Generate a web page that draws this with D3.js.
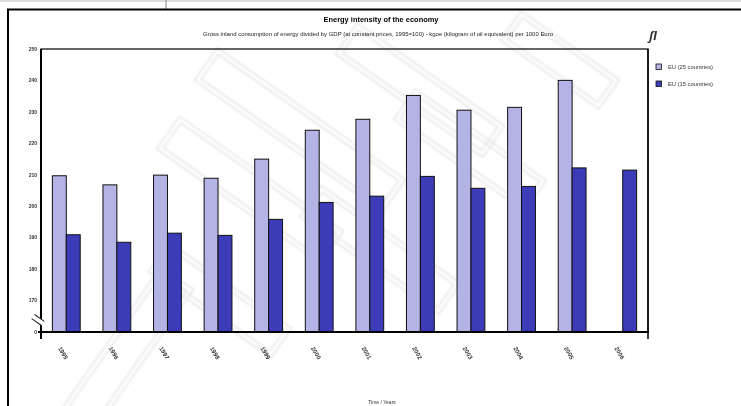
<!DOCTYPE html>
<html>
<head>
<meta charset="utf-8">
<script src="https://cdn.jsdelivr.net/npm/d3@7"></script>
<style>
  html, body { margin: 0; padding: 0; background: #fff; }
  svg { display: block; font-family: "Liberation Sans", Arial, sans-serif; }
</style>
</head>
<body>
<svg id="chart" width="741" height="406"></svg>
<script>
// Energy intensity: gross inland consumption of energy / GDP
const years = ["1995","1996","1997","1998","1999","2000","2001","2002","2003","2004","2005","2006"];
const eu25 = [209.6, 206.7, 209.8, 208.8, 214.9, 224.1, 227.6, 235.2, 230.5, 231.4, 240.0, null];
const eu15 = [190.8, 188.4, 191.3, 190.6, 195.7, 201.1, 203.1, 209.4, 205.6, 206.2, 212.1, 211.4];
const seriesNames = ["EU (25 countries)", "EU (15 countries)"];
const seriesColors = ["#b3b3e6", "#3c3cb9"];
const yTicks = [0, 170, 180, 190, 200, 210, 220, 230, 240, 250];

const svg = d3.select("#chart");
const plot = { left: 41, right: 648, top: 49, bottom: 332 };

// faint background emblem strokes
const defs = svg.append("defs");
defs.append("filter").attr("id", "soft").append("feGaussianBlur").attr("stdDeviation", 0.8);
const wm = svg.append("g").attr("fill", "none").attr("stroke", "#e6e6e6").attr("stroke-width", 1.6)
  .attr("filter", "url(#soft)");
[
  [250, 190, 200, 40, 35], [300, 130, 230, 40, 35], [420, 90, 180, 38, 35],
  [470, 150, 160, 38, 35], [380, 250, 170, 38, 35], [120, 360, 200, 40, -55],
  [560, 60, 120, 36, 35], [220, 300, 150, 36, 35]
].forEach(([cx, cy, w, h, a]) => {
  const g = wm.append("g").attr("transform", `translate(${cx},${cy}) rotate(${a})`);
  g.append("rect").attr("x", -w / 2).attr("y", -h / 2).attr("width", w).attr("height", h);
  g.append("rect").attr("x", -w / 2 + 5).attr("y", -h / 2 + 5).attr("width", w - 10).attr("height", h - 10);
});

// outer frame
svg.append("line").attr("x1", 0).attr("x2", 741).attr("y1", 1).attr("y2", 1).attr("stroke", "#bbb");
svg.append("line").attr("x1", 166).attr("x2", 166).attr("y1", 0).attr("y2", 9).attr("stroke", "#888");
svg.append("line").attr("x1", 7).attr("x2", 741).attr("y1", 9.5).attr("y2", 9.5).attr("stroke", "#000").attr("stroke-width", 2);
svg.append("line").attr("x1", 8).attr("x2", 8).attr("y1", 9).attr("y2", 406).attr("stroke", "#000").attr("stroke-width", 2);

// titles
svg.append("text").attr("x", 381).attr("y", 22).attr("text-anchor", "middle")
  .attr("font-size", 8).attr("font-weight", "bold").attr("textLength", 115).attr("lengthAdjust", "spacingAndGlyphs")
  .text("Energy intensity of the economy");
svg.append("text").attr("x", 378).attr("y", 35.5).attr("text-anchor", "middle")
  .attr("font-size", 5).attr("fill", "#222").attr("textLength", 350).attr("lengthAdjust", "spacingAndGlyphs")
  .text("Gross inland consumption of energy divided by GDP (at constant prices, 1995=100) - kgoe (kilogram of oil equivalent) per 1000 Euro");

// small emblem at top right
svg.append("text").attr("x", 649).attr("y", 40).attr("font-size", 13).attr("font-style", "italic")
  .attr("font-weight", "bold").attr("fill", "#333").text("ʃI");

// scales (broken value axis: 0 then 170..250)
const x = d3.scaleBand().domain(years).range([plot.left, plot.right]).paddingInner(0.45).paddingOuter(0.225);
const xs = d3.scaleBand().domain([0, 1]).range([0, x.bandwidth()]);
const y = d3.scaleLinear().domain([0, 170, 250]).range([plot.bottom, 300, plot.top]);

// plot box
svg.append("rect").attr("x", plot.left).attr("y", plot.top).attr("width", plot.right - plot.left)
  .attr("height", plot.bottom - plot.top).attr("fill", "none").attr("stroke", "#000").attr("stroke-width", 1.2);

// bars
const groups = svg.append("g").selectAll("g").data(years).join("g")
  .attr("transform", d => `translate(${x(d)},0)`);
[eu25, eu15].forEach((vals, si) => {
  groups.filter((d, i) => vals[i] != null).append("rect")
    .attr("x", xs(si))
    .attr("y", (d) => y(vals[years.indexOf(d)]))
    .attr("width", xs.bandwidth())
    .attr("height", (d) => plot.bottom - y(vals[years.indexOf(d)]))
    .attr("fill", seriesColors[si])
    .attr("stroke", "#111").attr("stroke-width", 1);
});

// axes
const yAxis = d3.axisLeft(y).tickValues(yTicks).tickSize(0).tickPadding(4);
const ya = svg.append("g").attr("transform", `translate(${plot.left},0)`).call(yAxis);
ya.select(".domain").remove();
ya.selectAll("text").attr("font-size", 5).attr("font-weight", "bold").attr("fill", "#333")
  .attr("font-family", "Liberation Sans, Arial, sans-serif");

svg.append("line").attr("x1", plot.left).attr("x2", plot.left).attr("y1", plot.top).attr("y2", 339)
  .attr("stroke", "#000").attr("stroke-width", 2);
svg.append("line").attr("x1", plot.left - 3).attr("x2", plot.right + 1).attr("y1", plot.bottom).attr("y2", plot.bottom)
  .attr("stroke", "#000").attr("stroke-width", 2);
svg.append("line").attr("x1", plot.right).attr("x2", plot.right).attr("y1", plot.top).attr("y2", 339)
  .attr("stroke", "#000").attr("stroke-width", 1.5);

// axis break mark
const brk = svg.append("g").attr("transform", `translate(${plot.left - 3},${(y(0) + y(170)) / 2 + 4}) rotate(35)`);
brk.append("rect").attr("x", -6).attr("y", -2.5).attr("width", 12).attr("height", 5).attr("fill", "#fff");
brk.append("line").attr("x1", -6).attr("x2", 6).attr("y1", -2.5).attr("y2", -2.5).attr("stroke", "#222").attr("stroke-width", 1);
brk.append("line").attr("x1", -6).attr("x2", 6).attr("y1", 2.5).attr("y2", 2.5).attr("stroke", "#222").attr("stroke-width", 1);

// rotated year labels
const xa = svg.append("g").attr("transform", `translate(0,${plot.bottom})`)
  .call(d3.axisBottom(x).tickSize(0).tickPadding(0));
xa.select(".domain").remove();
xa.selectAll(".tick text")
  .attr("font-size", 6).attr("font-weight", "bold").attr("fill", "#333")
  .attr("font-family", "Liberation Sans, Arial, sans-serif")
  .attr("text-anchor", "middle").attr("dy", 0)
  .attr("transform", "translate(-5,22) rotate(60)");

// legend
const lg = svg.append("g").attr("transform", "translate(656,64)");
seriesNames.forEach((name, i) => {
  lg.append("rect").attr("x", 0).attr("y", i * 17).attr("width", 5.5).attr("height", 5.5)
    .attr("fill", seriesColors[i]).attr("stroke", "#111").attr("stroke-width", 0.8);
  lg.append("text").attr("x", 12).attr("y", i * 17 + 5.2).attr("font-size", 5).attr("fill", "#333")
    .attr("textLength", 45).attr("lengthAdjust", "spacingAndGlyphs").text(name);
});

// x axis title
svg.append("text").attr("x", 382).attr("y", 404).attr("text-anchor", "middle")
  .attr("font-size", 5).attr("fill", "#333").text("Time / Years");
</script>
</body>
</html>
